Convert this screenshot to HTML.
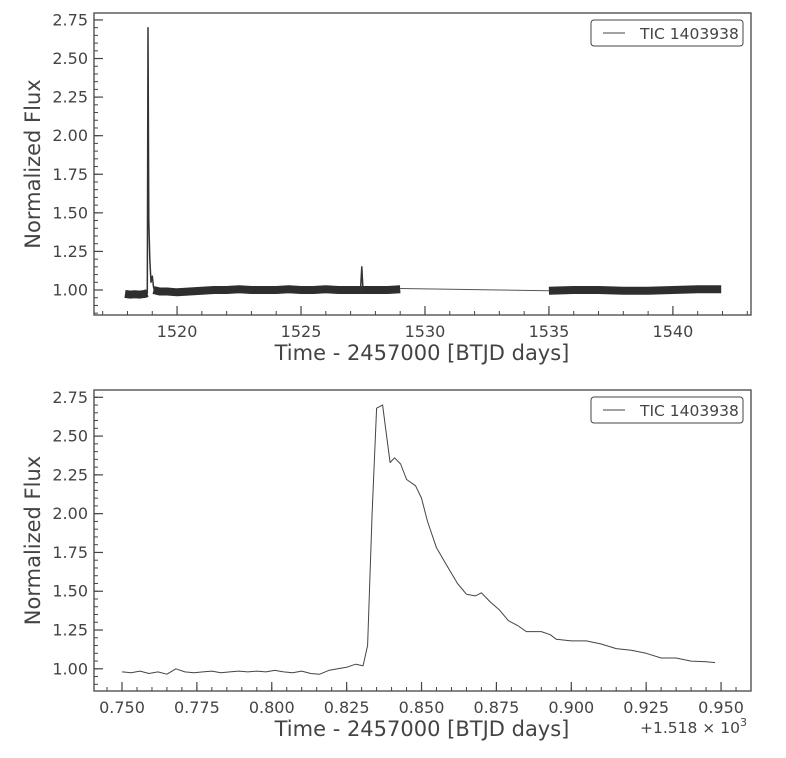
<!DOCTYPE html>
<html><head><meta charset="utf-8"><style>
body{margin:0;background:#fff;}
svg{display:block;font-family:"DejaVu Sans","Liberation Sans",sans-serif;}
</style></head><body>
<svg id="fig" width="786" height="758" viewBox="0 0 786 758"></svg>
<script>
// ---- top panel data ----
const spikeTimes = [1518.78,1518.8,1518.83,1518.86,1518.9,1518.95,1519.0,1519.05,1519.1];
const spikeFlux  = [0.975,0.98,2.70,1.45,1.2,1.05,1.09,1.02,0.99];
const spike2Times = [1527.4,1527.45,1527.5];
const spike2Flux  = [1.0,1.15,1.0];
const band1Times = [1517.9,1518.1,1518.3,1518.5,1518.7,1518.8];
const band1Flux  = [0.975,0.97,0.972,0.97,0.975,0.98];
const band2Times = [1519.05,1519.3,1519.6,1520,1520.5,1521,1521.5,1522,1522.5,1523,1523.5,1524,1524.5,1525,1525.5,1526,1526.5,1527,1527.5,1528,1528.5,1529.0];
const band2Flux  = [1.0,0.99,0.99,0.985,0.99,0.995,1.0,1.0,1.005,1.0,1.0,1.0,1.005,1.0,1.0,1.005,1.0,1.0,1.0,1.0,1.0,1.005];
const gapTimes = [1529.0,1535.0];
const gapFlux  = [1.01,0.995];
const seg2Times = [1535.0,1536,1537,1538,1539,1540,1541,1541.95];
const seg2Flux  = [0.995,1.0,1.0,0.995,0.995,1.0,1.005,1.005];
const topXTicks = [1520,1525,1530,1535,1540];
const topYTicks = [1.00,1.25,1.50,1.75,2.00,2.25,2.50,2.75];
// ---- bottom panel data ----
const botTimes = [0.750,0.753,0.756,0.759,0.762,0.765,0.768,0.771,0.774,0.777,0.780,0.783,0.786,0.789,0.792,0.795,0.798,0.801,0.804,0.807,0.810,0.813,0.816,0.819,0.822,0.825,0.828,0.8305,0.832,0.8335,0.835,0.837,0.838,0.8395,0.841,0.843,0.845,0.848,0.850,0.852,0.855,0.858,0.862,0.865,0.868,0.870,0.873,0.876,0.879,0.882,0.885,0.890,0.893,0.895,0.900,0.905,0.910,0.915,0.920,0.925,0.930,0.935,0.940,0.945,0.948];
const botFlux  = [0.98,0.975,0.985,0.97,0.98,0.965,1.0,0.98,0.975,0.98,0.985,0.975,0.98,0.985,0.98,0.985,0.98,0.99,0.98,0.975,0.985,0.97,0.965,0.99,1.0,1.01,1.03,1.02,1.15,2.0,2.68,2.70,2.55,2.33,2.36,2.32,2.22,2.18,2.1,1.95,1.78,1.68,1.55,1.48,1.47,1.49,1.43,1.38,1.31,1.28,1.24,1.24,1.22,1.19,1.18,1.18,1.16,1.13,1.12,1.10,1.07,1.07,1.05,1.045,1.04];
const botXTicks = [0.750,0.775,0.800,0.825,0.850,0.875,0.900,0.925,0.950];
const botYTicks = [1.00,1.25,1.50,1.75,2.00,2.25,2.50,2.75];

const NS="http://www.w3.org/2000/svg";
const svg=document.getElementById('fig');
function mk(tag,attrs,parent){const e=document.createElementNS(NS,tag);for(const k in attrs)e.setAttribute(k,attrs[k]);(parent||svg).appendChild(e);return e;}
const C='#444';

function panel(p){
  const g=mk('g',{});
  
  
  const L=94,R=751,T=p.top,B=p.bottom;
  const sx=v=>L+(v-p.x0)/(p.x1-p.x0)*(R-L);
  const sy=v=>B-(v-p.y0)/(p.y1-p.y0)*(B-T);
  for(let v=Math.ceil(p.x0/p.xm)*p.xm; v<=p.x1; v+=p.xm){const x=sx(v);mk('line',{x1:x,x2:x,y1:B,y2:B-4,stroke:C,'stroke-width':1},g);}
  for(let v=Math.ceil(p.y0/0.05)*0.05; v<=p.y1; v+=0.05){const y=sy(v);mk('line',{x1:L,x2:L+4,y1:y,y2:y,stroke:C,'stroke-width':1},g);}
  p.xt.forEach(v=>{const x=sx(v);mk('line',{x1:x,x2:x,y1:B,y2:B-9,stroke:C,'stroke-width':1.2},g);
    const t=mk('text',{x:x,y:B+22,'text-anchor':'middle','font-size':16,fill:C},g);t.textContent=p.xfmt(v);
    });
  p.yt.forEach(v=>{const y=sy(v);mk('line',{x1:L,x2:L+9,y1:y,y2:y,stroke:C,'stroke-width':1.2},g);
    const t=mk('text',{x:L-6,y:y+5.5,'text-anchor':'end','font-size':16,fill:C},g);t.textContent=v.toFixed(2);
    });
  p.series.forEach(s=>{
    const pts=s.t.map((v,i)=>sx(v).toFixed(1)+','+sy(s.f[i]).toFixed(1)).join(' ');
    const pl=mk('polyline',{points:pts,fill:'none',stroke:s.c,'stroke-width':s.w,'stroke-linejoin':'round'},g);
    
  });
  mk('rect',{x:L,y:T,width:R-L,height:B-T,fill:'none',stroke:C,'stroke-width':1.3},g);
  const xl=mk('text',{x:422,y:B+45,'text-anchor':'middle','font-size':21,fill:C},g);xl.textContent='Time - 2457000 [BTJD days]';
  
  const cy=(T+B)/2;
  const yl=mk('text',{x:40,y:cy,'text-anchor':'middle','font-size':21,fill:C,transform:'rotate(-90 40 '+cy+')'},g);yl.textContent='Normalized Flux';
  
  const lg=mk('g',{},g);
  mk('rect',{x:591,y:T+7,width:152,height:26,rx:3,fill:'#fff',stroke:C,'stroke-width':1},lg);
  mk('line',{x1:603,x2:625,y1:T+20,y2:T+20,stroke:C,'stroke-width':1},lg);
  const lt=mk('text',{x:640,y:T+26,'font-size':15.5,fill:C},lg);lt.textContent='TIC 1403938';
  
  return g;
}
panel({name:'full-lightcurve-panel',top:13,bottom:315,x0:1516.65,x1:1543.15,y0:0.838,y1:2.795,xm:1,
  xt:topXTicks,yt:topYTicks,xfmt:v=>String(v),
  series:[{t:gapTimes,f:gapFlux,c:'#555',w:1,n:'gap-line'},
          {t:band1Times,f:band1Flux,c:'#2e2e2e',w:8,n:'flux-band-pre'},
          {t:band2Times,f:band2Flux,c:'#2e2e2e',w:8,n:'flux-band-orbit1'},
          {t:seg2Times,f:seg2Flux,c:'#2e2e2e',w:8,n:'flux-band-orbit2'},
          {t:spikeTimes,f:spikeFlux,c:'#333',w:1.5,n:'flare-spike'},
          {t:spike2Times,f:spike2Flux,c:'#333',w:1.5,n:'small-spike'}]});
panel({name:'flare-zoom-panel',top:390,bottom:691,x0:0.74065,x1:0.96,y0:0.857,y1:2.797,xm:0.005,
  xt:botXTicks,yt:botYTicks,xfmt:v=>v.toFixed(3),
  series:[{t:botTimes,f:botFlux,c:'#444',w:1,n:'flare-line'}]});
const off=mk('text',{x:640,y:733,'font-size':15.5,fill:C});

off.innerHTML='+1.518 × 10<tspan dy="-7" font-size="11">3</tspan>';
</script>
</body></html>
